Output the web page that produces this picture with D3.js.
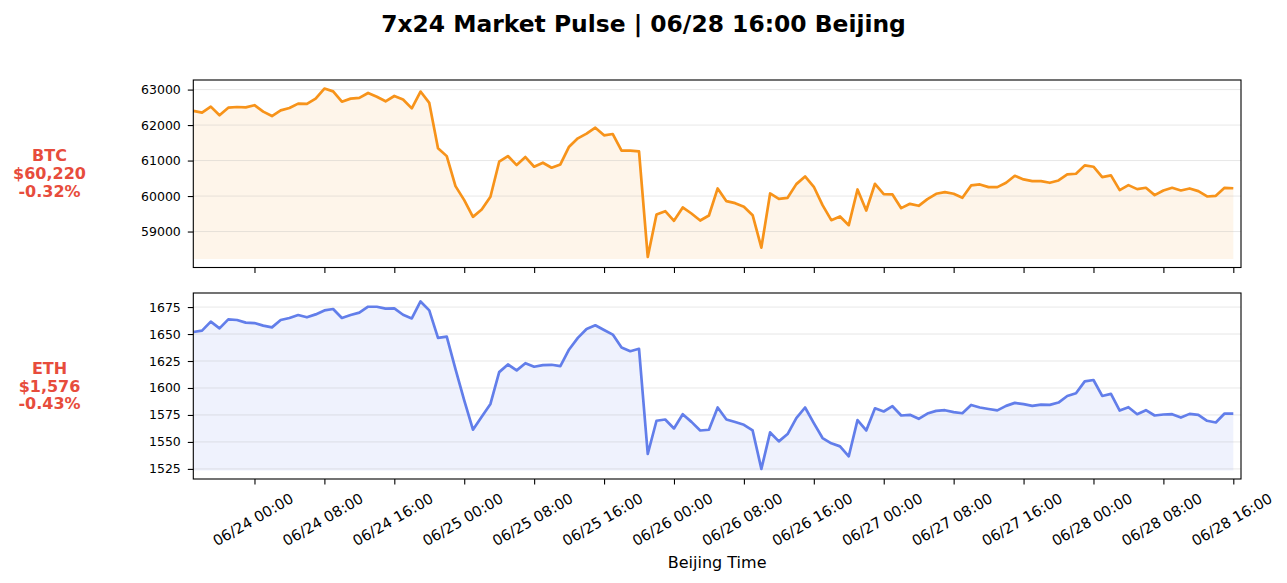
<!DOCTYPE html>
<html>
<head>
<meta charset="utf-8">
<script src="https://cdn.jsdelivr.net/npm/d3@7/dist/d3.min.js"></script>
<style>
  html, body { margin: 0; padding: 0; background: #fff; }
  svg { display: block; font-family: "DejaVu Sans", sans-serif; }
</style>
</head>
<body>
<svg id="chart" width="1287" height="583"></svg>
<script>
// ---------------- DATA ----------------
const titleText = "7x24 Market Pulse | 06/28 16:00 Beijing";
const xLabelText = "Beijing Time";
const startTime = "2024-06-23 17:00"; // hourly samples, Beijing time

const btcValues = [
  62400, 62350, 62520, 62275, 62490, 62510, 62500, 62560, 62380, 62255,
  62415, 62480, 62605, 62595, 62745, 63030, 62950, 62660, 62745, 62765,
  62905, 62800, 62670, 62820, 62720, 62470, 62945, 62625, 61350, 61125,
  60280, 59885, 59414, 59620, 59980, 60967, 61127, 60873, 61099, 60826,
  60939, 60798, 60892, 61391, 61626, 61758, 61927, 61711, 61748, 61278,
  61278, 61259, 58285, 59480, 59574, 59301, 59678, 59508, 59310, 59452,
  60214, 59856, 59800, 59700, 59461, 58548, 60073, 59922, 59951, 60336,
  60553, 60261, 59744, 59320, 59424, 59179, 60186, 59593, 60346, 60054,
  60045, 59659, 59781, 59725, 59913, 60064, 60111, 60064, 59951, 60299,
  60327, 60252, 60252, 60374, 60572, 60468, 60421, 60421, 60374, 60440,
  60609, 60628, 60864, 60826, 60534, 60581, 60167, 60308, 60195, 60233,
  60026, 60158, 60233, 60158, 60214, 60139, 59988, 60007, 60233, 60220
];

const ethValues = [
  1651.9, 1653.2, 1661.5, 1655.3, 1663.6, 1663.0, 1660.6, 1660.2, 1657.8, 1656.2,
  1663.0, 1664.9, 1667.6, 1665.5, 1668.2, 1671.9, 1673.2, 1664.9, 1667.6, 1669.8,
  1675.3, 1675.3, 1673.5, 1673.8, 1667.9, 1664.5, 1680.2, 1671.9, 1646.4, 1647.6,
  1617.5, 1588.6, 1561.3, 1573.3, 1585.2, 1614.7, 1621.8, 1616.3, 1623.0, 1619.7,
  1621.2, 1621.5, 1620.3, 1635.7, 1646.4, 1654.7, 1658.1, 1653.8, 1649.5, 1637.5,
  1634.1, 1636.3, 1538.8, 1569.6, 1570.8, 1562.5, 1575.7, 1568.6, 1560.6, 1561.3,
  1581.9, 1570.8, 1568.4, 1565.9, 1560.6, 1525.0, 1558.8, 1550.5, 1557.3, 1572.0,
  1581.9, 1567.4, 1553.6, 1548.7, 1545.9, 1536.7, 1570.2, 1560.6, 1581.2, 1578.2,
  1583.1, 1574.5, 1575.1, 1571.4, 1576.3, 1578.8, 1579.4, 1577.6, 1576.6, 1584.3,
  1581.9, 1580.5, 1579.2, 1583.4, 1586.2, 1585.0, 1583.4, 1584.6, 1584.3, 1586.5,
  1592.6, 1595.1, 1606.1, 1607.4, 1592.6, 1594.5, 1579.1, 1582.2, 1575.7, 1579.4,
  1574.5, 1575.4, 1575.7, 1572.6, 1576.0, 1575.1, 1569.6, 1568.0, 1576.3, 1576.3
];

const btcYTicks = [59000, 60000, 61000, 62000, 63000];
const ethYTicks = [1525, 1550, 1575, 1600, 1625, 1650, 1675];

const xTickLabels = [
  "06/24 00:00", "06/24 08:00", "06/24 16:00",
  "06/25 00:00", "06/25 08:00", "06/25 16:00",
  "06/26 00:00", "06/26 08:00", "06/26 16:00",
  "06/27 00:00", "06/27 08:00", "06/27 16:00",
  "06/28 00:00", "06/28 08:00", "06/28 16:00"
];

const btcLabel = ["BTC", "$60,220", "-0.32%"];
const ethLabel = ["ETH", "$1,576", "-0.43%"];

// ---------------- SETUP ----------------
const svg = d3.select("#chart");
const W = 1287, H = 583;
const plotLeft = 193.3, plotRight = 1241;

const parseFull = d3.timeParse("%Y-%m-%d %H:%M");
const t0 = parseFull(startTime);
const times = btcValues.map((_, i) => d3.timeHour.offset(t0, i));
const tLast = times[times.length - 1];
const xEnd = new Date(tLast.getTime() + 0.88 * 3600 * 1000);

const x = d3.scaleTime().domain([t0, xEnd]).range([plotLeft, plotRight]);

const parseTick = d3.timeParse("%Y/%m/%d %H:%M");
const xTickDates = xTickLabels.map(s => parseTick("2024/" + s));

svg.append("rect").attr("width", W).attr("height", H).attr("fill", "#fff");

// Title
svg.append("text")
  .attr("x", W / 2).attr("y", 31.5)
  .attr("text-anchor", "middle")
  .attr("font-size", 23.4).attr("font-weight", "bold")
  .attr("fill", "#000")
  .text(titleText);

function panel(opts) {
  const { values, top, bottom, color, fillOpacity, yTicks, label, labelY, showXLabels } = opts;
  const mn = d3.min(values), mx = d3.max(values);
  const base = mn * 0.999;
  const span = mx - base;
  const y = d3.scaleLinear().domain([base - 0.05 * span, mx + 0.05 * span]).range([bottom, top]);

  const g = svg.append("g");

  const clipId = "clip" + Math.round(top);
  svg.append("clipPath").attr("id", clipId)
    .append("rect").attr("x", plotLeft).attr("y", top)
    .attr("width", plotRight - plotLeft).attr("height", bottom - top);

  const data = values.map((v, i) => ({ t: times[i], v }));

  const inner = g.append("g").attr("clip-path", `url(#${clipId})`);

  // fill
  inner.append("path")
    .datum(data)
    .attr("fill", color).attr("fill-opacity", fillOpacity)
    .attr("d", d3.area().x(d => x(d.t)).y0(y(base)).y1(d => y(d.v)));

  // grid
  inner.append("g").selectAll("line").data(yTicks).join("line")
    .attr("x1", plotLeft).attr("x2", plotRight)
    .attr("y1", d => y(d)).attr("y2", d => y(d))
    .attr("stroke", "#b0b0b0").attr("stroke-opacity", 0.3).attr("stroke-width", 1);

  // line
  inner.append("path")
    .datum(data)
    .attr("fill", "none").attr("stroke", color).attr("stroke-width", 2.7)
    .attr("stroke-linejoin", "round").attr("stroke-linecap", "butt")
    .attr("d", d3.line().x(d => x(d.t)).y(d => y(d.v)));

  // y axis
  const yAxis = d3.axisLeft(y).tickValues(yTicks).tickSize(5.5).tickPadding(7).tickFormat(d3.format("d"));
  const ya = g.append("g").attr("transform", `translate(${plotLeft},0)`).call(yAxis);
  ya.select(".domain").remove();
  ya.selectAll(".tick line").attr("stroke", "#000").attr("stroke-width", 1.1);
  ya.selectAll(".tick text").attr("font-size", 12.5).attr("fill", "#000")
    .attr("font-family", "DejaVu Sans, sans-serif");

  // x axis
  const xAxis = d3.axisBottom(x).tickValues(xTickDates).tickSize(5.5).tickFormat("");
  const xa = g.append("g").attr("transform", `translate(0,${bottom})`).call(xAxis);
  xa.select(".domain").remove();
  xa.selectAll(".tick line").attr("stroke", "#000").attr("stroke-width", 1.1);

  if (showXLabels) {
    g.append("g").selectAll("text").data(xTickDates).join("text")
      .attr("transform", (d) => `translate(${x(d) - 1.5},${bottom + 40.5}) rotate(-30)`)
      .attr("text-anchor", "middle")
      .attr("dy", "0.36em")
      .attr("font-size", 14.8).attr("fill", "#000")
      .text((d, i) => xTickLabels[i]);
  }

  // frame
  g.append("rect")
    .attr("x", plotLeft).attr("y", top)
    .attr("width", plotRight - plotLeft).attr("height", bottom - top)
    .attr("fill", "none").attr("stroke", "#000").attr("stroke-width", 1.1);

  // side label
  g.append("g").selectAll("text").data(label).join("text")
    .attr("x", 49.5)
    .attr("y", (d, i) => labelY + i * 17.8)
    .attr("dy", "0.36em")
    .attr("text-anchor", "middle")
    .attr("font-size", 16).attr("font-weight", "bold")
    .attr("fill", "#e74c3c")
    .text(d => d);
}

panel({
  values: btcValues, top: 80, bottom: 267.5, color: "#f7931a", fillOpacity: 0.09,
  yTicks: btcYTicks, label: btcLabel, labelY: 155.5, showXLabels: false
});
panel({
  values: ethValues, top: 293, bottom: 479, color: "#627eea", fillOpacity: 0.1,
  yTicks: ethYTicks, label: ethLabel, labelY: 368, showXLabels: true
});

// x label
svg.append("text")
  .attr("x", (plotLeft + plotRight) / 2).attr("y", 568)
  .attr("text-anchor", "middle")
  .attr("font-size", 16)
  .attr("fill", "#000")
  .text(xLabelText);
</script>
</body>
</html>
